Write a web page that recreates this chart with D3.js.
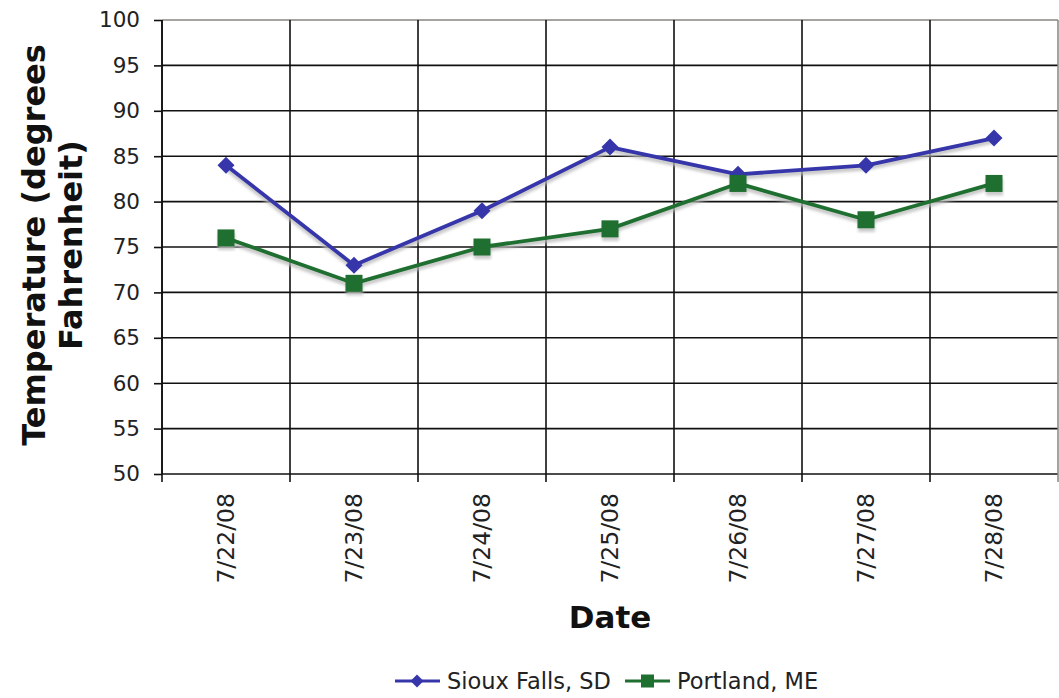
<!DOCTYPE html>
<html>
<head>
<meta charset="utf-8">
<script src="https://cdn.jsdelivr.net/npm/d3@7"></script>
<style>
  html, body { margin: 0; padding: 0; background: #fff; }
  svg { display: block; font-family: "DejaVu Sans", Verdana, sans-serif; }
</style>
</head>
<body>
<svg id="chart" width="1059" height="698"></svg>
<script>
// Daily high temperatures for two cities
const dates = ["7/22/08", "7/23/08", "7/24/08", "7/25/08", "7/26/08", "7/27/08", "7/28/08"];
const siouxFalls = [84, 73, 79, 86, 83, 84, 87];
const portland = [76, 71, 75, 77, 82, 78, 82];
const yTicks = [50, 55, 60, 65, 70, 75, 80, 85, 90, 95, 100];

const seriesList = [
  { name: "Sioux Falls, SD", values: siouxFalls, color: "#3636aa", marker: "diamond" },
  { name: "Portland, ME", values: portland, color: "#1f6f30", marker: "square" }
];

const svg = d3.select("#chart");
const plot = { left: 162, right: 1058, top: 20, bottom: 474 };

const x = d3.scaleBand().domain(dates).range([plot.left, plot.right]).padding(0);
const y = d3.scaleLinear().domain([50, 100]).range([plot.bottom, plot.top]);
const cx = d => x(d) + x.bandwidth() / 2;

// Horizontal gridlines
svg.append("g")
  .selectAll("line")
  .data(yTicks)
  .join("line")
  .attr("x1", plot.left).attr("x2", plot.right)
  .attr("y1", d => y(d)).attr("y2", d => y(d))
  .attr("stroke", d => d === 100 ? "#8a8580" : "#111")
  .attr("stroke-width", d => d === 100 ? 1.5 : 1.6);

// Vertical gridlines at category boundaries
const bounds = dates.map(d => x(d)).concat([plot.right]);
svg.append("g")
  .selectAll("line")
  .data(bounds)
  .join("line")
  .attr("x1", d => d).attr("x2", d => d)
  .attr("y1", plot.top).attr("y2", (d, i) => i === 0 ? plot.bottom : plot.bottom + 8)
  .attr("stroke", (d, i) => i === bounds.length - 1 ? "#8a8580" : "#111")
  .attr("stroke-width", (d, i) => i === bounds.length - 1 ? 1.5 : 1.6);

// Y axis
const yAxis = svg.append("g")
  .attr("transform", `translate(${plot.left},0)`)
  .call(d3.axisLeft(y).tickValues(yTicks).tickSize(8).tickPadding(14));
yAxis.select(".domain").attr("stroke", "#111").attr("stroke-width", 1.6)
  .attr("d", `M0,${plot.top}V${plot.bottom + 8}`);
yAxis.selectAll(".tick line").attr("stroke", "#111").attr("stroke-width", 1.6);
yAxis.selectAll(".tick text")
  .attr("font-size", 21.5).attr("fill", "#222")
  .attr("font-family", "DejaVu Sans, Verdana, sans-serif");

// X axis labels, rotated
const xAxis = svg.append("g")
  .attr("transform", `translate(0,${plot.bottom})`)
  .call(d3.axisBottom(x).tickSize(0).tickPadding(0));
xAxis.select(".domain").remove();
xAxis.selectAll(".tick text")
  .attr("font-size", 23.5).attr("fill", "#222")
  .attr("font-family", "DejaVu Sans, Verdana, sans-serif")
  .attr("transform", "translate(0,19) rotate(-90)")
  .attr("text-anchor", "end")
  .attr("dy", "0.35em")
  .attr("y", 0).attr("x", 0);

// Series lines with soft drop shadow
const line = d3.line()
  .x((d, i) => cx(dates[i]))
  .y(d => y(d));

const defs = svg.append("defs");
defs.append("filter").attr("id", "shadowBlur")
  .append("feGaussianBlur").attr("stdDeviation", 1.4);

const diamondPath = r => `M0,${-r}L${r},0L0,${r}L${-r},0Z`;

// Shadows first
seriesList.forEach(s => {
  svg.append("path")
    .datum(s.values)
    .attr("d", line)
    .attr("fill", "none")
    .attr("stroke", "#b8b8b8")
    .attr("stroke-width", 4.5)
    .attr("opacity", 0.8)
    .attr("filter", "url(#shadowBlur)")
    .attr("transform", "translate(0,3)");
  if (s.marker === "square") {
    svg.append("g").selectAll("rect")
      .data(s.values)
      .join("rect")
      .attr("x", (d, i) => cx(dates[i]) - 8)
      .attr("y", d => y(d) - 8 + 3)
      .attr("width", 17).attr("height", 17)
      .attr("fill", "#bbb").attr("opacity", 0.8)
      .attr("filter", "url(#shadowBlur)");
  }
});

seriesList.forEach(s => {
  svg.append("path")
    .datum(s.values)
    .attr("d", line)
    .attr("fill", "none")
    .attr("stroke", s.color)
    .attr("stroke-width", 3.8)
    .attr("stroke-linejoin", "round");

  const g = svg.append("g");
  if (s.marker === "diamond") {
    g.selectAll("path")
      .data(s.values)
      .join("path")
      .attr("d", diamondPath(8.5))
      .attr("transform", (d, i) => `translate(${cx(dates[i])},${y(d)})`)
      .attr("fill", s.color);
  } else {
    g.selectAll("rect")
      .data(s.values)
      .join("rect")
      .attr("x", (d, i) => cx(dates[i]) - 8.5)
      .attr("y", d => y(d) - 8.5)
      .attr("width", 17).attr("height", 17)
      .attr("fill", s.color);
  }
});

// Axis titles
svg.append("text")
  .attr("transform", `translate(${(plot.left + plot.right) / 2},628)`)
  .attr("text-anchor", "middle")
  .attr("font-size", 31).attr("font-weight", "bold").attr("fill", "#111")
  .text("Date");

const yTitle = svg.append("text")
  .attr("transform", "translate(45,245) rotate(-90)")
  .attr("text-anchor", "middle")
  .attr("font-size", 32).attr("font-weight", "bold").attr("fill", "#111");
yTitle.append("tspan").attr("x", 0).attr("y", 0).text("Temperature (degrees");
yTitle.append("tspan").attr("x", 0).attr("y", 37).text("Fahrenheit)");

// Legend
const legend = svg.append("g").attr("transform", "translate(0,681)");
const legendItems = [
  { s: seriesList[0], lx: 395 },
  { s: seriesList[1], lx: 625 }
];
legendItems.forEach(({ s, lx }) => {
  const g = legend.append("g").attr("transform", `translate(${lx},0)`);
  g.append("line").attr("x1", 0).attr("x2", 45).attr("y1", 0).attr("y2", 0)
    .attr("stroke", s.color).attr("stroke-width", 3);
  if (s.marker === "diamond") {
    g.append("path").attr("d", diamondPath(6.5))
      .attr("transform", "translate(22,0)").attr("fill", s.color);
  } else {
    g.append("rect").attr("x", 16).attr("y", -6.5).attr("width", 13).attr("height", 13)
      .attr("fill", s.color);
  }
  g.append("text").attr("x", 52).attr("y", 0).attr("dy", "0.35em")
    .attr("font-size", 22.5).attr("fill", "#222")
    .text(s.name);
});
</script>
</body>
</html>
